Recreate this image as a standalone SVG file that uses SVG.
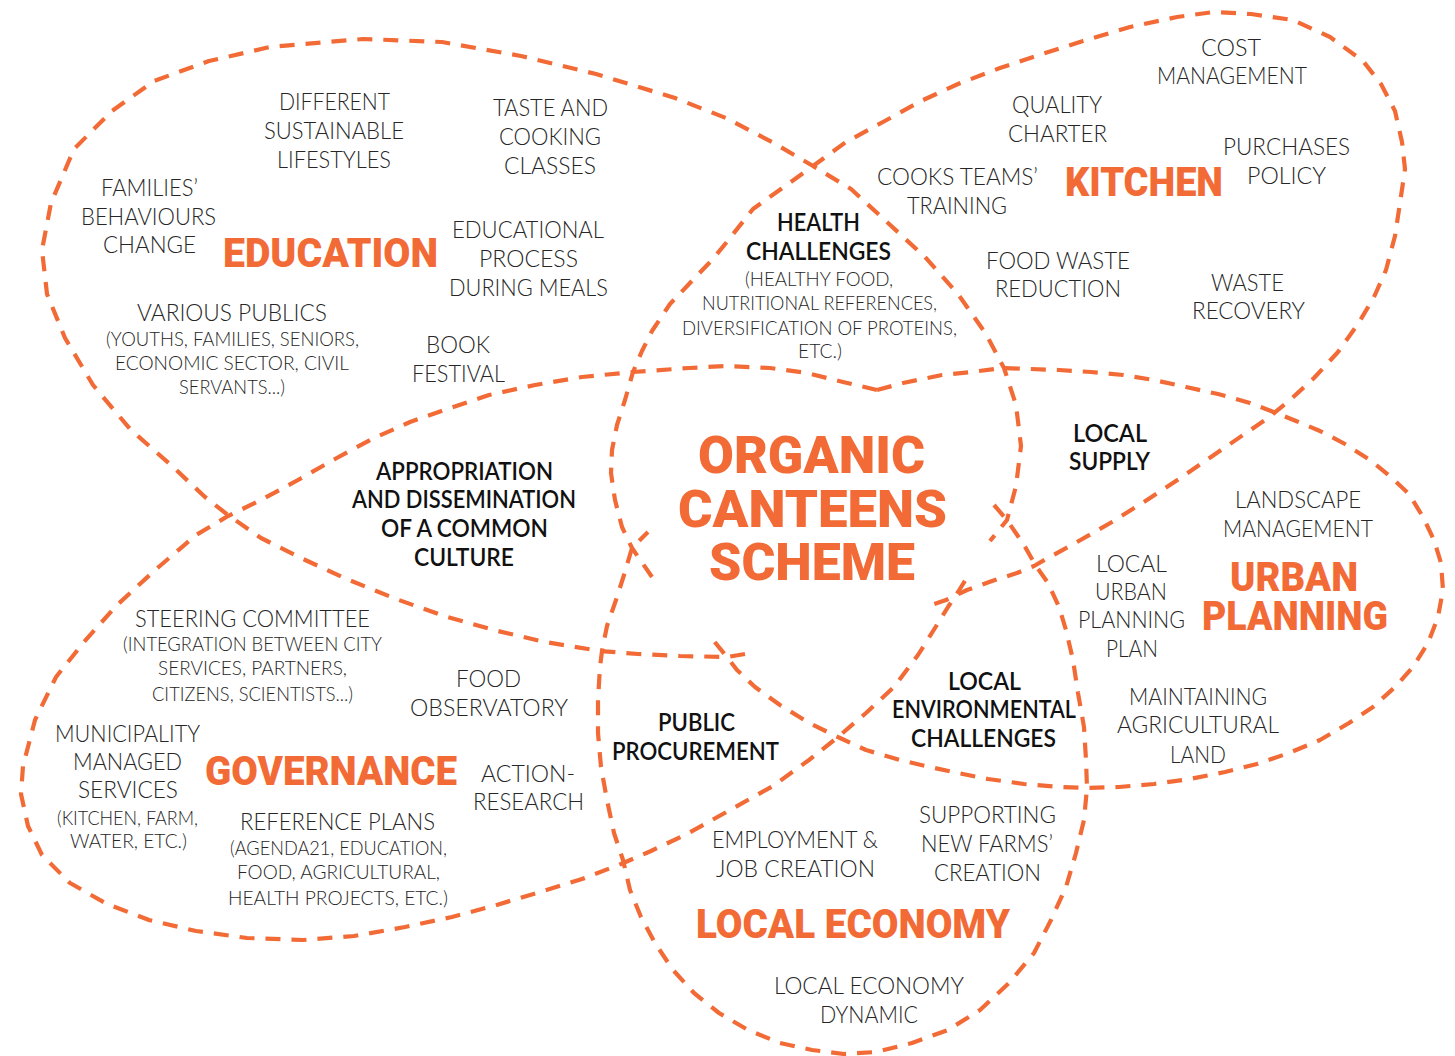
<svg xmlns="http://www.w3.org/2000/svg" width="1455" height="1056" viewBox="0 0 1455 1056">
<style>
.p{fill:none;stroke:#F26B36;stroke-width:4.2;stroke-dasharray:15 11;stroke-linejoin:round}
text{font-family:Lato,"Open Sans","DejaVu Sans",sans-serif;font-weight:300;font-size:24px;fill:#262626}
.s{font-size:20.5px}
.b{font-weight:600;fill:#111}
.h{font-family:Roboto,"Liberation Sans",sans-serif;font-weight:900;font-size:40px;fill:#F26B36}
.c{font-size:52px}
</style>
<rect width="1455" height="1056" fill="#fff"/>

<g id="education">
<path class="p" d="M745,654 L727,657 L680,656 L638,654 L600,651 L545,642 L498,631 L447,617 L396,599 L349,580 L303,559 L261,538 L228,515 L205,497 L172,466 L130,429 L93,385 L65,338 L47,294 L42,250 L51,203 L74,149 L112,111 L154,81 L209,61 L270,47 L363,39 L442,42 L521,56 L596,74 L675,98 L726,118 L772,142 L813,166 L851,189 L888,223 L925,257 L958,294 L986,334 L1004,368 L1016,405 L1021,446 L1016,486 L1007,520 L990,541"/>
<text x="279" y="110" textLength="111" lengthAdjust="spacingAndGlyphs">DIFFERENT</text>
<text x="264" y="139" textLength="140" lengthAdjust="spacingAndGlyphs">SUSTAINABLE</text>
<text x="277" y="168" textLength="114" lengthAdjust="spacingAndGlyphs">LIFESTYLES</text>
<text x="493" y="116" textLength="115" lengthAdjust="spacingAndGlyphs">TASTE AND</text>
<text x="499" y="145" textLength="102" lengthAdjust="spacingAndGlyphs">COOKING</text>
<text x="504" y="174" textLength="92" lengthAdjust="spacingAndGlyphs">CLASSES</text>
<text x="101" y="196" textLength="97" lengthAdjust="spacingAndGlyphs">FAMILIES’</text>
<text x="81" y="225" textLength="135" lengthAdjust="spacingAndGlyphs">BEHAVIOURS</text>
<text x="103" y="253" textLength="93" lengthAdjust="spacingAndGlyphs">CHANGE</text>
<text class="h" x="223" y="267" textLength="215" lengthAdjust="spacingAndGlyphs">EDUCATION</text>
<text x="452" y="238" textLength="152" lengthAdjust="spacingAndGlyphs">EDUCATIONAL</text>
<text x="479" y="267" textLength="99" lengthAdjust="spacingAndGlyphs">PROCESS</text>
<text x="449" y="296" textLength="159" lengthAdjust="spacingAndGlyphs">DURING MEALS</text>
<text x="137" y="321" textLength="190" lengthAdjust="spacingAndGlyphs">VARIOUS PUBLICS</text>
<text class="s" x="106" y="346" textLength="253" lengthAdjust="spacingAndGlyphs">(YOUTHS, FAMILIES, SENIORS,</text>
<text class="s" x="115" y="370" textLength="234" lengthAdjust="spacingAndGlyphs">ECONOMIC SECTOR, CIVIL</text>
<text class="s" x="179" y="394" textLength="106" lengthAdjust="spacingAndGlyphs">SERVANTS...)</text>
<text x="426" y="353" textLength="64" lengthAdjust="spacingAndGlyphs">BOOK</text>
<text x="412" y="382" textLength="93" lengthAdjust="spacingAndGlyphs">FESTIVAL</text>
</g>

<g id="kitchen">
<path class="p" d="M652,577 L632,548 L622,527 L615,500 L611,473 L612,450 L617,425 L625,400 L633,372 L642,351 L652,331 L670,304 L689,284 L712,260 L726,243 L753,209 L781,189 L813,166 L846,142 L883,122 L921,101 L958,84 L1000,68 L1042,54 L1083,41 L1130,27 L1177,17 L1214,12 L1251,14 L1293,20 L1330,37 L1363,61 L1381,84 L1395,111 L1402,142 L1405,169 L1400,203 L1395,236 L1386,270 L1374,297 L1358,324 L1338,352 L1314,378 L1290,400 L1268,418 L1246,433 L1211,457 L1179,479 L1147,500 L1112,522 L1077,542 L1048,558 L1034,566 L1017,573 L992,581 L967,590 L946,600 L925,607"/>
<text x="1201" y="56" textLength="60" lengthAdjust="spacingAndGlyphs">COST</text>
<text x="1157" y="84" textLength="150" lengthAdjust="spacingAndGlyphs">MANAGEMENT</text>
<text x="1012" y="113" textLength="90" lengthAdjust="spacingAndGlyphs">QUALITY</text>
<text x="1008" y="142" textLength="99" lengthAdjust="spacingAndGlyphs">CHARTER</text>
<text x="1223" y="155" textLength="127" lengthAdjust="spacingAndGlyphs">PURCHASES</text>
<text x="1247" y="184" textLength="79" lengthAdjust="spacingAndGlyphs">POLICY</text>
<text x="877" y="185" textLength="161" lengthAdjust="spacingAndGlyphs">COOKS TEAMS’</text>
<text x="907" y="214" textLength="100" lengthAdjust="spacingAndGlyphs">TRAINING</text>
<text class="h" x="1065" y="196" textLength="158" lengthAdjust="spacingAndGlyphs">KITCHEN</text>
<text x="986" y="269" textLength="144" lengthAdjust="spacingAndGlyphs">FOOD WASTE</text>
<text x="995" y="297" textLength="126" lengthAdjust="spacingAndGlyphs">REDUCTION</text>
<text x="1211" y="291" textLength="73" lengthAdjust="spacingAndGlyphs">WASTE</text>
<text x="1192" y="319" textLength="113" lengthAdjust="spacingAndGlyphs">RECOVERY</text>
</g>

<g id="urban-planning">
<path class="p" d="M877,390 L903,383 L942,375 L971,372 L1002,368 L1031,369 L1059,370 L1091,372 L1123,375 L1154,380 L1186,387 L1218,394 L1250,403 L1271,411 L1296,421 L1320,431 L1345,444 L1370,460 L1391,477 L1409,494 L1423,517 L1434,540 L1441,563 L1443,590 L1438,617 L1428,643 L1413,667 L1395,687 L1373,707 L1349,723 L1320,740 L1289,753 L1257,764 L1225,772 L1190,779 L1154,784 L1119,787 L1087,788 L1059,787 L1024,784 L988,779 L953,772 L921,765 L900,760 L866,750 L840,738 L809,723 L780,705 L755,687 L737,670 L727,657 L709,635"/>
<text x="1235" y="508" textLength="126" lengthAdjust="spacingAndGlyphs">LANDSCAPE</text>
<text x="1223" y="537" textLength="150" lengthAdjust="spacingAndGlyphs">MANAGEMENT</text>
<text class="h" x="1230" y="591" textLength="128" lengthAdjust="spacingAndGlyphs">URBAN</text>
<text class="h" x="1202" y="630" textLength="186" lengthAdjust="spacingAndGlyphs">PLANNING</text>
<text x="1096" y="572" textLength="71" lengthAdjust="spacingAndGlyphs">LOCAL</text>
<text x="1095" y="600" textLength="72" lengthAdjust="spacingAndGlyphs">URBAN</text>
<text x="1078" y="628" textLength="107" lengthAdjust="spacingAndGlyphs">PLANNING</text>
<text x="1106" y="657" textLength="52" lengthAdjust="spacingAndGlyphs">PLAN</text>
<text x="1129" y="705" textLength="138" lengthAdjust="spacingAndGlyphs">MAINTAINING</text>
<text x="1117" y="733" textLength="162" lengthAdjust="spacingAndGlyphs">AGRICULTURAL</text>
<text x="1170" y="763" textLength="56" lengthAdjust="spacingAndGlyphs">LAND</text>
</g>

<g id="local-economy">
<path class="p" d="M994,505 L1007,520 L1024,545 L1036,566 L1048,583 L1059,607 L1066,630 L1073,660 L1078,693 L1084,727 L1086,760 L1087,788 L1084,820 L1076,853 L1066,887 L1051,920 L1034,953 L1009,983 L980,1010 L948,1030 L912,1043 L876,1052 L844,1054 L812,1050 L780,1043 L748,1030 L719,1013 L694,993 L673,970 L655,943 L641,917 L630,890 L623,860 L614,833 L607,800 L601,767 L598,733 L598,700 L600,667 L602,651 L607,626 L616,600 L624,575 L632,548 L648,532"/>
<text x="712" y="848" textLength="166" lengthAdjust="spacingAndGlyphs">EMPLOYMENT &amp;</text>
<text x="716" y="877" textLength="159" lengthAdjust="spacingAndGlyphs">JOB CREATION</text>
<text x="919" y="823" textLength="137" lengthAdjust="spacingAndGlyphs">SUPPORTING</text>
<text x="921" y="852" textLength="132" lengthAdjust="spacingAndGlyphs">NEW FARMS’</text>
<text x="934" y="881" textLength="107" lengthAdjust="spacingAndGlyphs">CREATION</text>
<text class="h" x="696" y="938" textLength="314" lengthAdjust="spacingAndGlyphs">LOCAL ECONOMY</text>
<text x="774" y="994" textLength="190" lengthAdjust="spacingAndGlyphs">LOCAL ECONOMY</text>
<text x="820" y="1023" textLength="98" lengthAdjust="spacingAndGlyphs">DYNAMIC</text>
</g>

<g id="governance">
<path class="p" d="M877,390 L843,382 L807,373 L770,368 L726,366 L689,368 L633,372 L582,377 L535,385 L489,395 L447,409 L410,422 L372,439 L335,459 L298,480 L261,500 L228,516 L196,535 L154,571 L116,606 L84,642 L56,677 L35,720 L23,766 L21,794 L28,826 L42,855 L70,883 L107,904 L149,920 L196,931 L247,938 L303,940 L354,936 L405,927 L452,917 L493,906 L540,892 L582,879 L621,864 L651,851 L687,834 L730,810 L773,786 L809,760 L838,737 L866,713 L894,687 L918,655 L935,628 L948,607 L958,592 L968,576"/>
<text x="135" y="627" textLength="235" lengthAdjust="spacingAndGlyphs">STEERING COMMITTEE</text>
<text class="s" x="123" y="651" textLength="259" lengthAdjust="spacingAndGlyphs">(INTEGRATION BETWEEN CITY</text>
<text class="s" x="158" y="675" textLength="189" lengthAdjust="spacingAndGlyphs">SERVICES, PARTNERS,</text>
<text class="s" x="152" y="701" textLength="201" lengthAdjust="spacingAndGlyphs">CITIZENS, SCIENTISTS...)</text>
<text x="456" y="687" textLength="65" lengthAdjust="spacingAndGlyphs">FOOD</text>
<text x="410" y="716" textLength="158" lengthAdjust="spacingAndGlyphs">OBSERVATORY</text>
<text x="55" y="742" textLength="145" lengthAdjust="spacingAndGlyphs">MUNICIPALITY</text>
<text x="73" y="770" textLength="109" lengthAdjust="spacingAndGlyphs">MANAGED</text>
<text x="78" y="798" textLength="100" lengthAdjust="spacingAndGlyphs">SERVICES</text>
<text class="s" x="57" y="825" textLength="141" lengthAdjust="spacingAndGlyphs">(KITCHEN, FARM,</text>
<text class="s" x="70" y="848" textLength="117" lengthAdjust="spacingAndGlyphs">WATER, ETC.)</text>
<text class="h" x="205" y="785" textLength="252" lengthAdjust="spacingAndGlyphs">GOVERNANCE</text>
<text x="481" y="782" textLength="94" lengthAdjust="spacingAndGlyphs">ACTION-</text>
<text x="473" y="810" textLength="111" lengthAdjust="spacingAndGlyphs">RESEARCH</text>
<text x="240" y="830" textLength="195" lengthAdjust="spacingAndGlyphs">REFERENCE PLANS</text>
<text class="s" x="230" y="855" textLength="217" lengthAdjust="spacingAndGlyphs">(AGENDA21, EDUCATION,</text>
<text class="s" x="237" y="879" textLength="203" lengthAdjust="spacingAndGlyphs">FOOD, AGRICULTURAL,</text>
<text class="s" x="228" y="905" textLength="220" lengthAdjust="spacingAndGlyphs">HEALTH PROJECTS, ETC.)</text>
</g>

<g id="health-challenges">
<text class="b" x="777" y="231" textLength="83" lengthAdjust="spacingAndGlyphs">HEALTH</text>
<text class="b" x="746" y="260" textLength="145" lengthAdjust="spacingAndGlyphs">CHALLENGES</text>
<text class="s" x="745" y="286" textLength="148" lengthAdjust="spacingAndGlyphs">(HEALTHY FOOD,</text>
<text class="s" x="702" y="310" textLength="235" lengthAdjust="spacingAndGlyphs">NUTRITIONAL REFERENCES,</text>
<text class="s" x="682" y="335" textLength="275" lengthAdjust="spacingAndGlyphs">DIVERSIFICATION OF PROTEINS,</text>
<text class="s" x="798" y="358" textLength="44" lengthAdjust="spacingAndGlyphs">ETC.)</text>
</g>

<g id="appropriation">
<text class="b" x="376" y="480" textLength="177" lengthAdjust="spacingAndGlyphs">APPROPRIATION</text>
<text class="b" x="352" y="508" textLength="224" lengthAdjust="spacingAndGlyphs">AND DISSEMINATION</text>
<text class="b" x="381" y="537" textLength="167" lengthAdjust="spacingAndGlyphs">OF A COMMON</text>
<text class="b" x="414" y="566" textLength="100" lengthAdjust="spacingAndGlyphs">CULTURE</text>
</g>

<g id="local-supply">
<text class="b" x="1073" y="442" textLength="74" lengthAdjust="spacingAndGlyphs">LOCAL</text>
<text class="b" x="1069" y="470" textLength="81" lengthAdjust="spacingAndGlyphs">SUPPLY</text>
</g>

<g id="local-environmental-challenges">
<text class="b" x="948" y="690" textLength="73" lengthAdjust="spacingAndGlyphs">LOCAL</text>
<text class="b" x="892" y="718" textLength="184" lengthAdjust="spacingAndGlyphs">ENVIRONMENTAL</text>
<text class="b" x="911" y="747" textLength="145" lengthAdjust="spacingAndGlyphs">CHALLENGES</text>
</g>

<g id="public-procurement">
<text class="b" x="658" y="731" textLength="77" lengthAdjust="spacingAndGlyphs">PUBLIC</text>
<text class="b" x="612" y="760" textLength="167" lengthAdjust="spacingAndGlyphs">PROCUREMENT</text>
</g>

<g id="organic-canteens-scheme">
<text class="h c" x="698" y="473" textLength="227" lengthAdjust="spacingAndGlyphs">ORGANIC</text>
<text class="h c" x="678" y="527" textLength="269" lengthAdjust="spacingAndGlyphs">CANTEENS</text>
<text class="h c" x="709" y="580" textLength="206" lengthAdjust="spacingAndGlyphs">SCHEME</text>
</g>

<g id="connectors"></g>
</svg>
